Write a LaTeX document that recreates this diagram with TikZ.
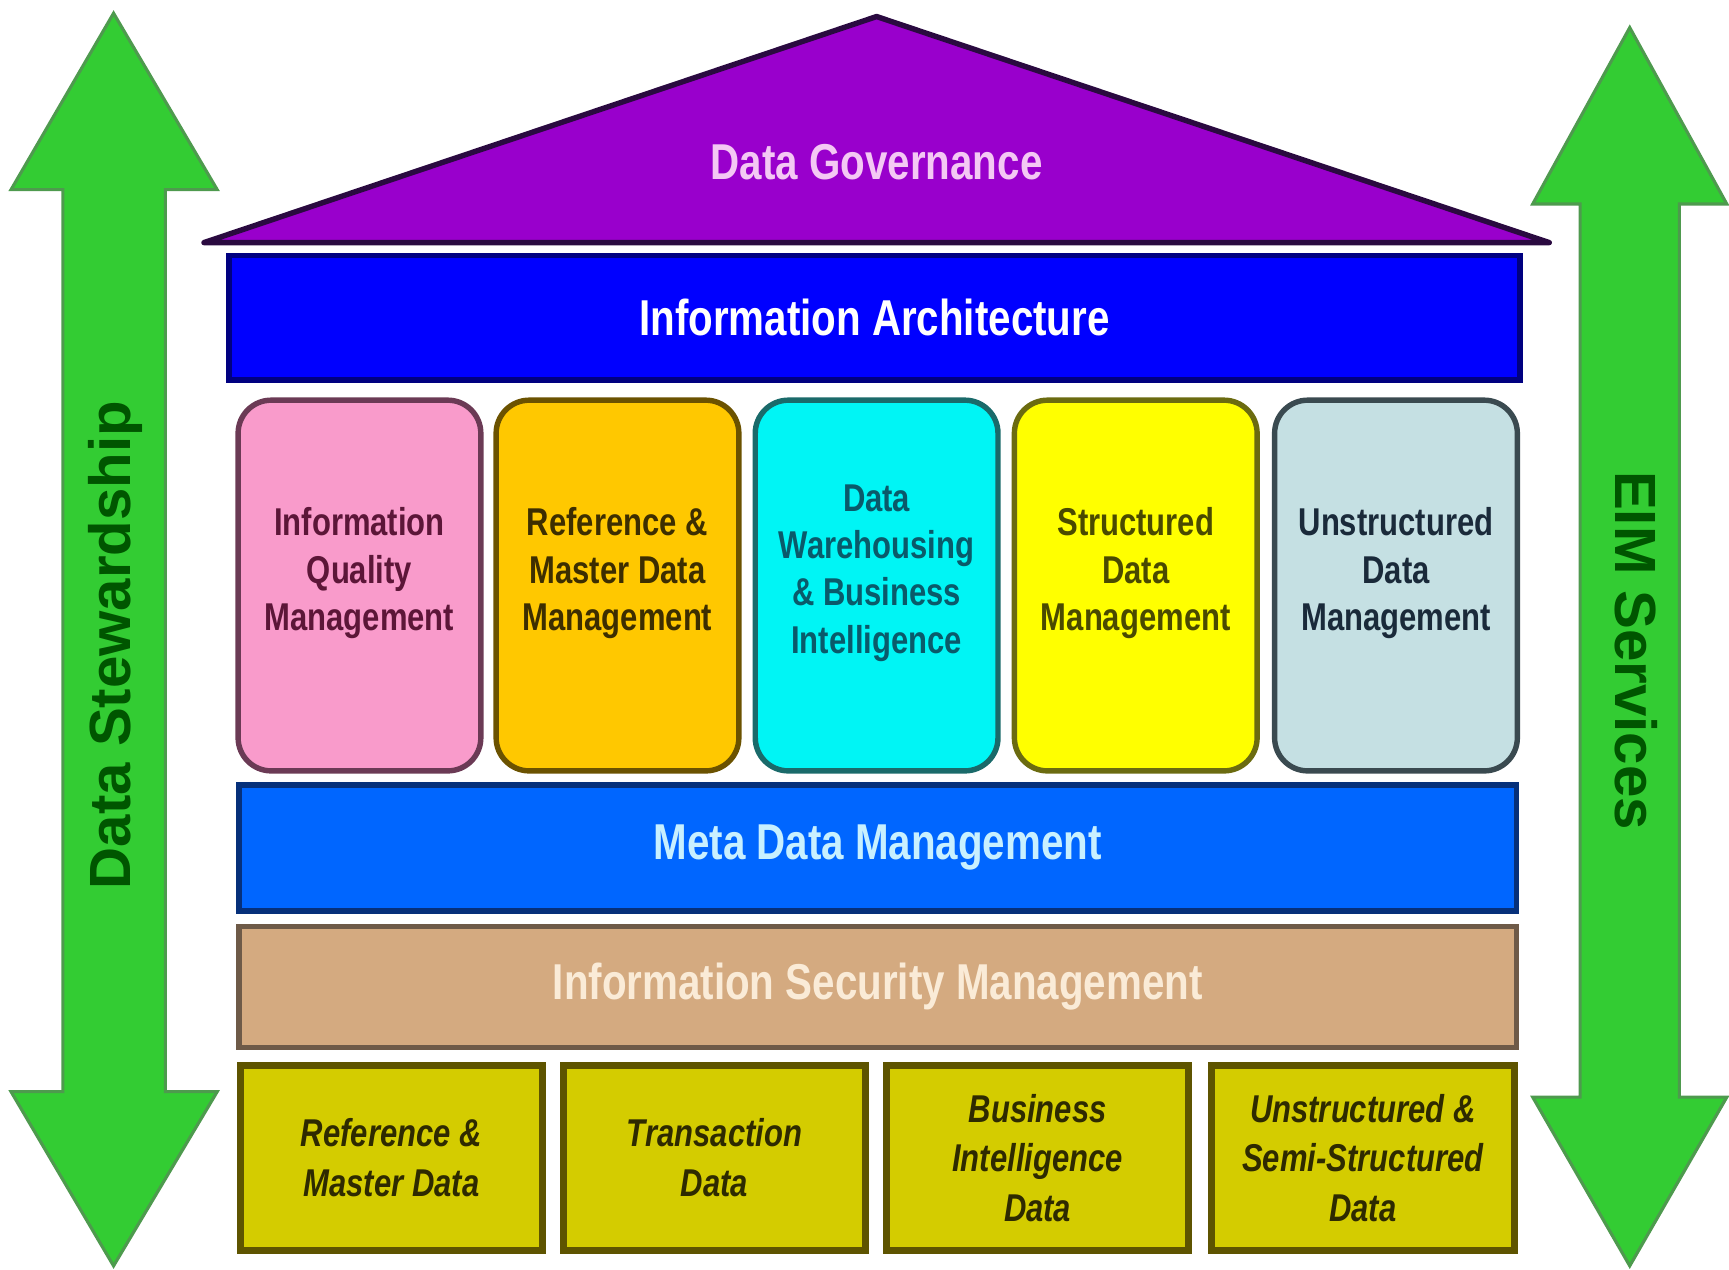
\documentclass[tikz,border=0pt]{standalone}
\usepackage{fontspec}
\setmainfont{Liberation Sans}[FakeStretch=0.8]
\newfontfamily\arrowfont{Liberation Sans}

\definecolor{rooffill}{HTML}{9900CC}
\definecolor{roofline}{HTML}{2A0A40}
\definecolor{rooftext}{HTML}{F4C8F4}
\definecolor{archfill}{HTML}{0000FF}
\definecolor{archline}{HTML}{000080}
\definecolor{pinkfill}{HTML}{F99BCB}
\definecolor{pinkline}{HTML}{6B3A55}
\definecolor{pinktext}{HTML}{5C1638}
\definecolor{orangefill}{HTML}{FFC800}
\definecolor{orangeline}{HTML}{6B5200}
\definecolor{orangetext}{HTML}{3D2E00}
\definecolor{cyanfill}{HTML}{00F5F5}
\definecolor{cyanline}{HTML}{1A6A6A}
\definecolor{cyantext}{HTML}{0A5A6A}
\definecolor{yellowfill}{HTML}{FFFF00}
\definecolor{yellowline}{HTML}{6B6B10}
\definecolor{yellowtext}{HTML}{4A4A00}
\definecolor{greyfill}{HTML}{C5E0E3}
\definecolor{greyline}{HTML}{3A4A50}
\definecolor{greytext}{HTML}{1A2A3A}
\definecolor{metafill}{HTML}{0066FF}
\definecolor{metaline}{HTML}{06307A}
\definecolor{metatext}{HTML}{C8F0FF}
\definecolor{secfill}{HTML}{D4AA80}
\definecolor{secline}{HTML}{6E5A48}
\definecolor{sectext}{HTML}{FAEBD7}
\definecolor{storefill}{HTML}{D4CC00}
\definecolor{storeline}{HTML}{5E5400}
\definecolor{storetext}{HTML}{2E2A00}
\definecolor{arrowfill}{HTML}{33CC33}
\definecolor{arrowline}{HTML}{4E9A4E}
\definecolor{arrowtext}{HTML}{005500}

\begin{document}
\begin{tikzpicture}[x=0.01cm, y=-0.01cm,
bar/.style = {rectangle, draw, line width=1.4pt, minimum width=11.58cm, minimum height=1.12cm, font=\fontsize{13}{15}\selectfont\bfseries},
pillar/.style = {rectangle, rounded corners=0.3cm, draw, line width=1.4pt, minimum width=2.2cm, minimum height=3.36cm, text depth=0.3cm, align=center, font=\fontsize{10}{12.2}\selectfont\bfseries},
store/.style = {rectangle, draw=storeline, fill=storefill, line width=1.8pt, minimum width=2.74cm, minimum height=1.68cm, align=center, text=storetext, font=\fontsize{10}{12.8}\selectfont\bfseries\itshape},
bigarrow/.style = {draw=arrowline, fill=arrowfill, line width=0.8pt},
side/.style = {text=arrowtext, font=\arrowfont\fontsize{15}{18}\selectfont\bfseries}]
\useasboundingbox (0,0) rectangle (1568,1151);
% side arrows
\draw[bigarrow] (103,12) -- (197,172) -- (150,172) -- (150,990) -- (197,990) -- (103,1148)
  -- (10,990) -- (57,990) -- (57,172) -- (10,172) -- cycle;
\draw[bigarrow] (1478,25) -- (1566,185) -- (1523,185) -- (1523,995) -- (1566,995) -- (1478,1148)
  -- (1390,995) -- (1433,995) -- (1433,185) -- (1390,185) -- cycle;
\node[side, rotate=90] at (105,585) (stew) {Data Stewardship};
\node[side, rotate=-90] at (1484,590) (eim) {EIM Services};
% roof
\coordinate (rl) at (185,220);
\coordinate (rt) at (795,15);
\coordinate (rr) at (1405,220);
\draw[fill=rooffill, draw=roofline, line width=1.4pt, line join=round] (rl) -- (rt) -- (rr) -- cycle;
\node[text=rooftext, font=\fontsize{13}{15}\selectfont\bfseries] at (795,147) (gov) {Data Governance};
% layers
\node[bar, fill=archfill, draw=archline, text=white, minimum width=11.7cm, minimum height=1.13cm] at (793,288) (arch) {Information Architecture};
\node[pillar, fill=pinkfill, draw=pinkline, text=pinktext] at (326,531) (iqm) {Information\\Quality\\Management};
\node[pillar, fill=orangefill, draw=orangeline, text=orangetext] at (560,531) (rmdm) {Reference \&\\Master Data\\Management};
\node[pillar, fill=cyanfill, draw=cyanline, text=cyantext] at (795,531) (dwbi) {Data\\Warehousing\\\& Business\\Intelligence};
\node[pillar, fill=yellowfill, draw=yellowline, text=yellowtext] at (1030,531) (sdm) {Structured\\Data\\Management};
\node[pillar, fill=greyfill, draw=greyline, text=greytext] at (1266,531) (udm) {Unstructured\\Data\\Management};
\node[bar, fill=metafill, draw=metaline, text=metatext, minimum height=1.14cm] at (796,769) (meta) {Meta Data Management};
\node[bar, fill=secfill, draw=secline, text=sectext, minimum height=1.1cm] at (796,895) (sec) {Information Security Management};
% data stores
\node[store] at (355,1050) (rmd) {Reference \&\\Master Data};
\node[store] at (648,1050) (trd) {Transaction\\Data};
\node[store] at (941,1050) (bid) {Business\\Intelligence\\Data};
\node[store] at (1236,1050) (usd) {Unstructured \&\\Semi-Structured\\Data};
\end{tikzpicture}
\end{document}
